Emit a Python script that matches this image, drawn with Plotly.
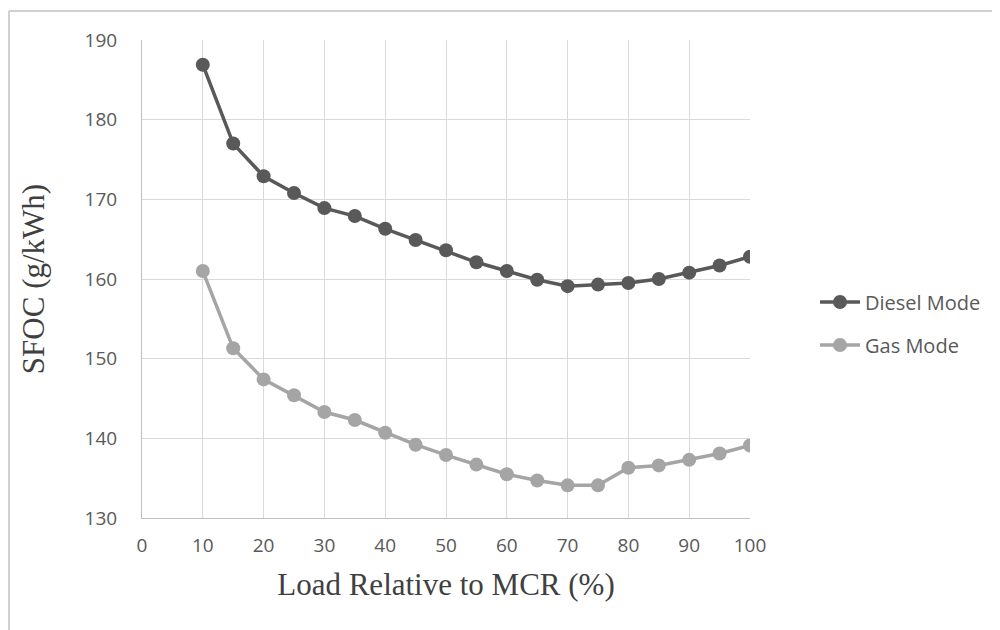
import plotly.graph_objects as go

load = [10, 15, 20, 25, 30, 35, 40, 45, 50, 55, 60, 65, 70, 75, 80, 85, 90, 95, 100]
diesel = [186.9, 177.0, 172.9, 170.8, 168.9, 167.9, 166.3, 164.9, 163.6, 162.1,
          161.0, 159.9, 159.1, 159.3, 159.5, 160.0, 160.8, 161.7, 162.8]
gas = [161.0, 151.3, 147.4, 145.4, 143.3, 142.3, 140.7, 139.2, 137.9, 136.7,
       135.5, 134.7, 134.1, 134.1, 136.3, 136.6, 137.3, 138.1, 139.1]
x_ticks = [0, 10, 20, 30, 40, 50, 60, 70, 80, 90, 100]
y_ticks = [130, 140, 150, 160, 170, 180, 190]

OFF = 8  # page body margin
W, H = 1000, 630
L, R, T, B = 142 - OFF, 250 + OFF, 40 - OFF, 112 + OFF
pw, ph = W - L - R, H - T - B

def px(xp):
    return (xp - OFF - L) / pw

def py(yp):
    return 1 - (yp - OFF - T) / ph

fig = go.Figure()
fig.add_trace(go.Scatter(
    x=load, y=diesel, name="Diesel Mode", mode="lines+markers",
    line=dict(color="#595959", width=3.5), showlegend=True,
    marker=dict(color="#595959", size=14), legend="legend"))
fig.add_trace(go.Scatter(
    x=load, y=gas, name="Gas Mode", mode="lines+markers",
    line=dict(color="#A5A5A5", width=3.5), showlegend=True,
    marker=dict(color="#A5A5A5", size=14), legend="legend2"))

tick_font = dict(family="Open Sans", size=19, color="#595959")
title_font = dict(family="Liberation Serif", size=31, color="#404040")
leg_font = dict(family="Open Sans", size=20, color="#595959")

fig.update_layout(
    width=W, height=H, showlegend=True,
    margin=dict(l=L, r=R, t=T, b=B, autoexpand=False),
    paper_bgcolor="white", plot_bgcolor="white",
    xaxis=dict(range=[0, 100], tickvals=x_ticks, showgrid=True,
               gridcolor="#D9D9D9", gridwidth=1, showline=True,
               linecolor="#BFBFBF", linewidth=1, zeroline=False,
               tickfont=tick_font, ticks="", ticklabelstandoff=10,
               title=dict(text="Load Relative to MCR (%)", font=title_font,
                          standoff=16)),
    yaxis=dict(range=[130, 190], tickvals=y_ticks, showgrid=True,
               gridcolor="#D9D9D9", gridwidth=1, showline=True,
               linecolor="#BFBFBF", linewidth=1, zeroline=False,
               tickfont=tick_font, ticks="", ticklabelstandoff=20,
               title=dict(text="SFOC (g/kWh)", font=title_font, standoff=30)),
    legend=dict(x=px(815), y=py(302), xanchor="left", yanchor="middle",
                itemwidth=40, font=leg_font, bgcolor="rgba(0,0,0,0)"),
    legend2=dict(x=px(815), y=py(345), xanchor="left", yanchor="middle",
                 itemwidth=40, font=leg_font, bgcolor="rgba(0,0,0,0)"),
    shapes=[
        dict(type="line", xref="paper", yref="paper",
             x0=px(9), x1=px(9), y0=py(11), y1=py(650),
             line=dict(color="#D0D0D0", width=2)),
        dict(type="line", xref="paper", yref="paper",
             x0=px(9), x1=px(1010), y0=py(11), y1=py(11),
             line=dict(color="#D0D0D0", width=2)),
    ],
)

fig.write_html("out.html")
